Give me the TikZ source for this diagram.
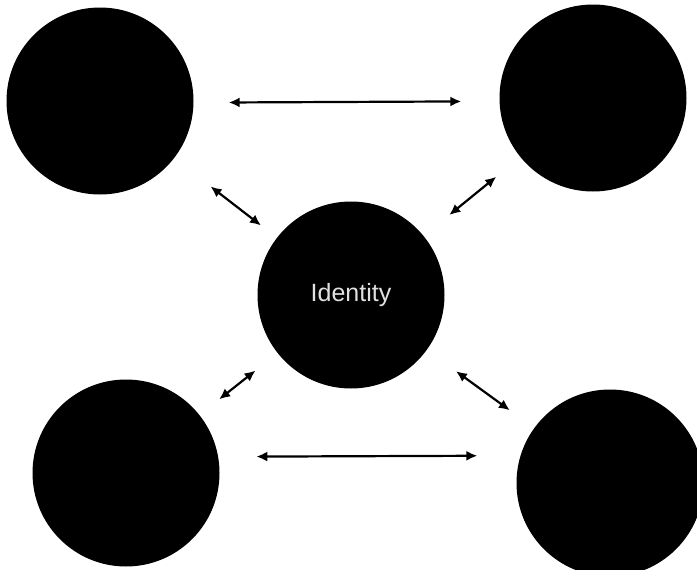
\documentclass[tikz,border=0pt]{standalone}
\usepackage{fontspec}
\setmainfont{Liberation Sans}
\usetikzlibrary{arrows.meta}
\begin{document}
\begin{tikzpicture}[x=1pt,y=-1pt,
  blob/.style={circle,fill=black,draw=none,minimum size=187pt,inner sep=0pt},
  arr/.style={line width=2.2pt,{Latex[length=11pt,width=10pt]}-{Latex[length=11pt,width=10pt]}}]
\useasboundingbox[fill=white] (0,0) rectangle (697,570);
\node[blob] (tl) at (100,101) {};
\node[blob] (tr) at (593,98) {};
\node[blob,text=white!88!black,font=\fontsize{25}{29}\selectfont] (c) at (351,295) {Identity};
\node[blob] (bl) at (126,473) {};
\node[blob] (br) at (610,483) {};
\draw[arr,shorten <=35pt,shorten >=38pt] (tl.359.4) -- (tr.182.5);
\draw[arr,shorten <=38pt,shorten >=43pt] (bl.10.5) -- (br.163.1);
\draw[arr,shorten <=46pt,shorten >=20pt] (tl) -- (c);
\draw[arr,shorten <=31pt,shorten >=33pt] (tr) -- (c);
\draw[arr,shorten <=25pt,shorten >=28pt] (bl) -- (c);
\draw[arr,shorten <=30pt,shorten >=36pt] (br) -- (c);
\end{tikzpicture}
\end{document}
